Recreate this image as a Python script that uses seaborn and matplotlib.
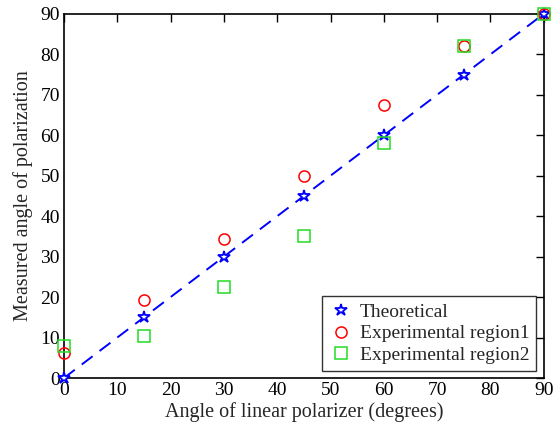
import numpy as np
import pandas as pd
import matplotlib
matplotlib.use("Agg")
import matplotlib.pyplot as plt
import seaborn as sns

angles = [0, 15, 30, 45, 60, 75, 90]
theoretical = [0, 15, 30, 45, 60, 75, 90]
region1 = [6.3, 19.3, 34.4, 50.0, 67.5, 82.0, 90.0]
region2 = [7.9, 10.5, 22.5, 35.2, 58.1, 82.0, 90.0]

sns.set_style("white")
plt.rcParams['font.family'] = ['Liberation Serif', 'DejaVu Serif']
plt.rcParams['xtick.direction'] = 'in'
plt.rcParams['ytick.direction'] = 'in'

df = pd.DataFrame({'angle': angles, 'theo': theoretical, 'r1': region1, 'r2': region2})

fig = plt.figure(figsize=(5.56, 4.34), dpi=100)
ax = fig.add_axes([0.115, 0.129, 0.863, 0.839])

sns.lineplot(data=df, x='angle', y='theo', ax=ax, color='blue', linestyle=(0, (7, 4.5)),
             linewidth=1.4, marker='*', markersize=9, markerfacecolor='white',
             markeredgecolor='blue', markeredgewidth=1.3, label='Theoretical',
             clip_on=False, zorder=3)
ax.plot(df['angle'], df['r1'], linestyle='none', marker='o', markersize=8,
        markerfacecolor='none', markeredgecolor='red', markeredgewidth=1.1,
        label='Experimental region1', clip_on=False, zorder=4)
ax.plot(df['angle'], df['r2'], linestyle='none', marker='s', markersize=8,
        markerfacecolor='none', markeredgecolor='#22dd22', markeredgewidth=1.1,
        label='Experimental region2', clip_on=False, zorder=4)

ax.set_xlim(0, 90)
ax.set_ylim(0, 90)
ax.set_xticks(range(0, 91, 10))
ax.set_yticks(range(0, 91, 10))
ax.tick_params(axis='both', which='both', direction='in', top=True, right=True,
               length=6, width=1, labelsize=14, colors='black', pad=3)
for s in ax.spines.values():
    s.set_color('black')
    s.set_linewidth(1.2)
ax.set_xlabel('Angle of linear polarizer (degrees)', fontsize=14.5, labelpad=2)
ax.set_ylabel('Measured angle of polarization', fontsize=14.5, labelpad=5)

leg = ax.legend(loc='lower right', fontsize=14, frameon=True, fancybox=False,
                edgecolor='black', handlelength=1.2, handletextpad=0.4,
                borderpad=0.35, labelspacing=0.2, borderaxespad=0.38)
leg.get_frame().set_linewidth(1.0)
for h in leg.legend_handles:
    h.set_linestyle('none')

fig.savefig('out.png', dpi=100)
